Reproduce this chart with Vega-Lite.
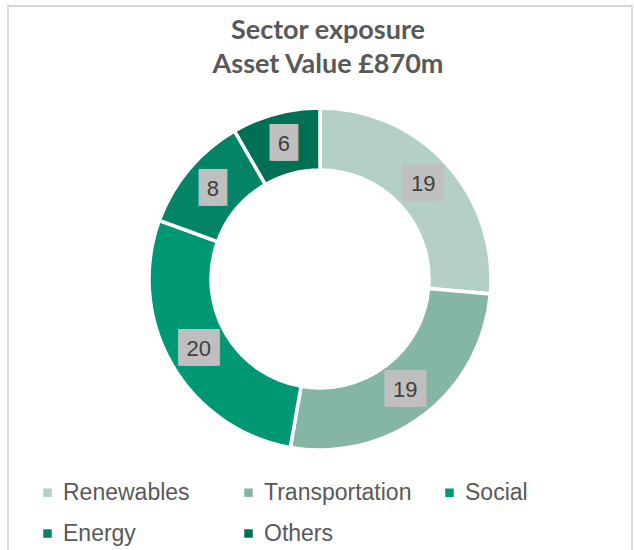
{
  "$schema": "https://vega.github.io/schema/vega-lite/v6.json",
  "width": 624,
  "height": 546,
  "autosize": {"type": "none"},
  "padding": {"left": 8, "top": 6, "right": 2, "bottom": 0},
  "background": "white",
  "title": {
    "text": ["Sector exposure", "Asset Value £870m"],
    "anchor": "middle",
    "frame": "group",
    "baseline": "top",
    "offset": -13,
    "dx": 8,
    "dy": 61,
    "font": "Lato",
    "fontSize": 27,
    "fontWeight": "bold",
    "color": "#595959",
    "lineHeight": 34
  },
  "data": {
    "values": [
      {"sector": "Renewables", "value": 19},
      {"sector": "Transportation", "value": 19},
      {"sector": "Social", "value": 20},
      {"sector": "Energy", "value": 8},
      {"sector": "Others", "value": 6}
    ]
  },
  "layer": [
    {
      "data": {"values": [{}]},
      "mark": {"type": "rect", "fill": "white", "stroke": "#d9d9d9", "strokeWidth": 2},
      "encoding": {}
    },
    {
      "transform": [{"window": [{"op": "row_number", "as": "idx"}]}],
      "encoding": {
        "theta": {"field": "value", "type": "quantitative", "stack": true},
        "order": {"field": "idx", "type": "quantitative"}
      },
      "layer": [
        {
          "mark": {"type": "arc", "innerRadius": 109, "outerRadius": 171, "stroke": "white", "strokeWidth": 3.5},
          "encoding": {
            "color": {
              "field": "sector",
              "type": "nominal",
              "sort": ["Renewables", "Transportation", "Social", "Energy", "Others"],
              "scale": {
                "domain": ["Renewables", "Transportation", "Social", "Energy", "Others"],
                "range": ["#b4d0c4", "#85b5a4", "#009774", "#038466", "#007054"]
              },
              "legend": {
                "title": null,
                "orient": "none",
                "legendX": 28,
                "legendY": 475,
                "direction": "horizontal",
                "columns": 3,
                "gridAlign": "all",
                "columnPadding": 26,
                "rowPadding": 17,
                "symbolType": "square",
                "symbolSize": 72,
                "symbolStrokeWidth": 0,
                "labelOffset": 4,
                "labelFont": "Liberation Sans",
                "labelFontSize": 23,
                "labelColor": "#595959",
                "labelLimit": 300
              }
            }
          }
        },
        {
          "mark": {"type": "text", "radius": 140, "font": "DejaVu Sans", "fontSize": 31, "baseline": "middle", "dx": -2.2, "color": "#bfbfbf"},
          "encoding": {"text": {"value": "█"}}
        },
        {
          "mark": {"type": "text", "radius": 140, "font": "DejaVu Sans", "fontSize": 31, "baseline": "middle", "dx": 2.2, "color": "#bfbfbf"},
          "encoding": {"text": {"value": "█"}}
        },
        {
          "mark": {"type": "text", "radius": 140, "font": "DejaVu Sans", "fontSize": 31, "baseline": "middle", "dx": -8.7, "color": "#bfbfbf"},
          "encoding": {"text": {"condition": {"test": "datum.value >= 10", "value": "█"}, "value": ""}}
        },
        {
          "mark": {"type": "text", "radius": 140, "font": "DejaVu Sans", "fontSize": 31, "baseline": "middle", "dx": 8.7, "color": "#bfbfbf"},
          "encoding": {"text": {"condition": {"test": "datum.value >= 10", "value": "█"}, "value": ""}}
        },
        {
          "mark": {"type": "text", "radius": 140, "font": "Liberation Sans", "fontSize": 22, "baseline": "middle", "color": "#404040"},
          "encoding": {"text": {"field": "value", "type": "quantitative"}}
        }
      ]
    }
  ]
}
